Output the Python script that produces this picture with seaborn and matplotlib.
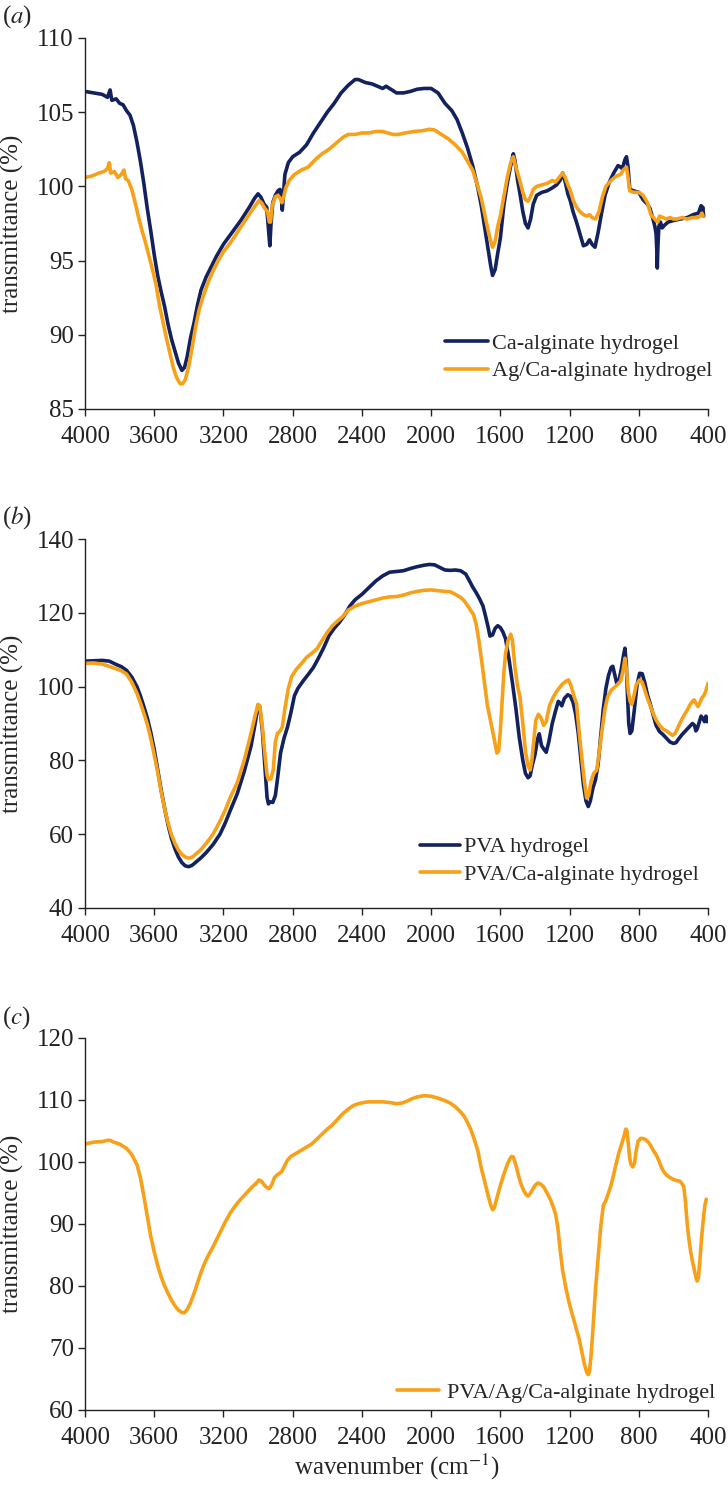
import numpy as np
import pandas as pd
import matplotlib
matplotlib.use("Agg")
import matplotlib.pyplot as plt
import seaborn as sns

# ---------------- data ----------------
# Panel (a)
a_ca_wn = [4000, 3950, 3900, 3870, 3855, 3845, 3820, 3800, 3780, 3760, 3740, 3720, 3700, 3680, 3660, 3640,
           3620, 3600, 3580, 3560, 3540, 3520, 3500, 3480, 3460, 3440, 3425, 3410, 3390, 3370, 3350, 3330,
           3300, 3270, 3240, 3200, 3150, 3100, 3050, 3020, 3000, 2985, 2965, 2950, 2940, 2932, 2925, 2915,
           2900, 2885, 2873, 2866, 2860, 2854, 2845, 2825, 2800, 2760, 2720, 2680, 2640, 2600, 2560, 2520,
           2480, 2440, 2420, 2380, 2340, 2300, 2280, 2260, 2240, 2200, 2160, 2120, 2080, 2040, 2000, 1960,
           1920, 1880, 1850, 1820, 1790, 1760, 1730, 1710, 1690, 1670, 1655, 1645, 1630, 1615, 1600, 1580,
           1560, 1540, 1525, 1515, 1500, 1485, 1470, 1455, 1440, 1425, 1410, 1390, 1360, 1330, 1300, 1275,
           1255, 1240, 1225, 1210, 1195, 1180, 1160, 1140, 1120, 1100, 1085, 1070, 1053, 1035, 1015, 995,
           970, 945, 920, 905, 895, 880, 871, 862, 852, 830, 800, 775, 750, 735, 720, 707, 700, 695, 693,
           690, 684, 675, 665, 650, 630, 600, 560, 520, 485, 455, 440, 435, 430, 425]
a_ca_t = [106.4, 106.3, 106.2, 106.0, 106.5, 105.8, 105.9, 105.6, 105.5, 105.1, 104.8, 104.1, 103.0, 101.7,
          100.2, 98.5, 97.0, 95.4, 94.0, 92.9, 91.9, 90.7, 89.7, 88.9, 88.1, 87.6, 87.8, 88.5, 89.8, 90.8,
          92.0, 93.0, 93.9, 94.6, 95.3, 96.1, 96.9, 97.7, 98.6, 99.2, 99.5, 99.3, 98.8, 98.6, 97.2, 96.0,
          97.5, 98.9, 99.4, 99.7, 99.8, 99.3, 98.4, 99.4, 100.8, 101.6, 102.0, 102.3, 102.8, 103.6, 104.3,
          105.0, 105.6, 106.3, 106.8, 107.2, 107.2, 107.0, 106.9, 106.7, 106.6, 106.75, 106.6, 106.3, 106.3,
          106.4, 106.55, 106.6, 106.6, 106.3, 105.6, 105.1, 104.5, 103.6, 102.6, 101.4, 99.9, 98.7, 97.2,
          95.7, 94.6, 94.0, 94.4, 95.5, 96.5, 98.7, 100.2, 101.4, 102.2, 101.7, 100.4, 99.4, 98.3, 97.5,
          97.2, 97.8, 98.8, 99.4, 99.6, 99.7, 99.9, 100.1, 100.4, 100.9, 100.3, 99.5, 99.0, 98.3, 97.6,
          96.8, 96.0, 96.1, 96.4, 96.1, 95.9, 96.9, 98.2, 99.4, 100.3, 100.9, 101.4, 101.3, 101.2, 101.8,
          102.0, 101.3, 99.8, 99.7, 99.6, 99.1, 98.8, 98.5, 97.9, 97.3, 96.8, 95.5, 94.5, 95.8, 97.3, 97.6,
          97.2, 97.4, 97.6, 97.7, 97.8, 97.9, 98.1, 98.2, 98.7, 98.4, 98.6, 98.0]

a_ag_wn = [4000, 3960, 3920, 3890, 3870, 3860, 3852, 3830, 3810, 3790, 3775, 3765, 3750, 3730, 3710, 3690,
           3670, 3650, 3630, 3610, 3590, 3570, 3550, 3530, 3510, 3490, 3470, 3450, 3435, 3420, 3400, 3380,
           3360, 3340, 3320, 3290, 3260, 3230, 3200, 3160, 3120, 3080, 3040, 3010, 2995, 2980, 2960, 2945,
           2935, 2928, 2918, 2900, 2885, 2872, 2862, 2852, 2840, 2820, 2790, 2750, 2710, 2670, 2630, 2590,
           2550, 2510, 2480, 2440, 2400, 2360, 2320, 2280, 2250, 2220, 2190, 2150, 2100, 2050, 2010, 1980,
           1940, 1900, 1860, 1820, 1790, 1760, 1730, 1710, 1690, 1670, 1655, 1645, 1630, 1615, 1600, 1580,
           1560, 1540, 1525, 1510, 1490, 1470, 1455, 1440, 1425, 1410, 1390, 1360, 1330, 1300, 1280, 1260,
           1240, 1225, 1210, 1195, 1180, 1160, 1140, 1120, 1100, 1085, 1070, 1050, 1030, 1010, 990, 960,
           930, 905, 890, 871, 862, 852, 830, 800, 775, 750, 730, 715, 700, 690, 680, 660, 640, 620, 600,
           580, 550, 520, 490, 460, 445, 435, 428]
a_ag_t = [100.6, 100.7, 100.9, 101.0, 101.2, 101.6, 100.9, 101.0, 100.6, 100.8, 101.1, 100.5, 100.4, 99.8,
          98.9, 97.9, 97.0, 96.2, 95.3, 94.4, 93.4, 92.0, 90.9, 89.8, 88.8, 87.8, 87.1, 86.7, 86.7, 87.0,
          87.9, 89.2, 90.6, 91.7, 92.5, 93.5, 94.3, 95.0, 95.6, 96.2, 96.9, 97.6, 98.3, 98.8, 99.05, 98.9,
          98.5, 98.3, 97.6, 97.6, 98.7, 99.3, 99.4, 99.2, 98.9, 99.3, 99.9, 100.4, 100.8, 101.1, 101.3,
          101.8, 102.2, 102.5, 102.9, 103.3, 103.5, 103.5, 103.6, 103.6, 103.7, 103.7, 103.6, 103.5, 103.5,
          103.6, 103.7, 103.75, 103.85, 103.8, 103.5, 103.2, 102.8, 102.3, 101.7, 101.1, 100.0, 99.2, 98.1,
          97.0, 96.3, 95.9, 96.3, 97.3, 98.0, 99.3, 100.6, 101.6, 102.0, 101.3, 100.5, 99.6, 99.1, 99.0,
          99.3, 99.8, 100.0, 100.1, 100.2, 100.4, 100.3, 100.6, 100.9, 100.6, 100.1, 99.7, 99.1, 98.6,
          98.3, 98.1, 98.0, 98.1, 97.9, 97.8, 98.3, 99.3, 100.0, 100.4, 100.7, 100.8, 101.1, 101.3, 100.6,
          99.7, 99.6, 99.6, 99.4, 98.9, 98.1, 97.9, 97.7, 97.6, 98.0, 97.9, 97.8, 97.9, 97.8, 97.8, 97.9,
          97.8, 97.9, 97.9, 98.0, 98.2, 98.0]

# Panel (b)
b_pva_wn = [4000, 3950, 3900, 3860, 3820, 3790, 3760, 3730, 3700, 3680, 3660, 3640, 3620, 3600, 3580, 3560,
            3540, 3520, 3500, 3480, 3460, 3440, 3420, 3400, 3380, 3360, 3330, 3300, 3260, 3220, 3190, 3160,
            3120, 3080, 3040, 3015, 3000, 2990, 2975, 2960, 2948, 2940, 2930, 2915, 2900, 2885, 2870, 2850,
            2830, 2810, 2790, 2770, 2740, 2710, 2680, 2650, 2620, 2590, 2560, 2530, 2500, 2470, 2440, 2400,
            2360, 2320, 2280, 2240, 2200, 2160, 2120, 2080, 2040, 2010, 1980, 1950, 1920, 1890, 1860, 1830,
            1800, 1780, 1760, 1740, 1720, 1700, 1685, 1670, 1660, 1645, 1630, 1615, 1600, 1585, 1570, 1550,
            1530, 1510, 1490, 1470, 1455, 1440, 1428, 1415, 1400, 1385, 1375, 1362, 1348, 1335, 1320, 1300,
            1280, 1265, 1255, 1245, 1230, 1210, 1195, 1180, 1165, 1150, 1135, 1120, 1105, 1092, 1080, 1065,
            1050, 1035, 1020, 1005, 990, 975, 960, 950, 940, 928, 915, 900, 888, 880, 872, 865, 858, 850, 840,
            825, 810, 795, 780, 765, 750, 735, 715, 700, 680, 660, 640, 620, 600, 585, 570, 550, 530, 510,
            490, 478, 470, 462, 450, 440, 430, 420, 412, 405, 400]
b_pva_t = [106.9, 107.0, 107.1, 106.9, 106.0, 105.4, 104.4, 102.6, 100.0, 97.5, 94.6, 91.5, 87.6, 83.0,
           77.5, 72.0, 67.0, 62.5, 58.8, 56.0, 53.8, 52.3, 51.4, 51.2, 51.6, 52.4, 53.6, 55.0, 57.2, 60.0,
           63.0, 66.5, 71.0, 77.0, 84.0, 90.5, 95.0, 94.5, 88.0, 78.0, 70.0, 68.2, 68.8, 68.6, 70.5, 76.0,
           82.0, 86.0, 89.0, 93.0, 97.5, 99.5, 101.5, 103.3, 105.2, 107.8, 110.6, 113.8, 115.8, 117.4, 119.4,
           121.8, 123.5, 125.0, 126.8, 128.6, 130.0, 131.0, 131.2, 131.4, 132.0, 132.5, 132.9, 133.1, 133.0,
           132.3, 131.6, 131.5, 131.6, 131.4, 130.5, 128.8, 127.0, 125.5, 123.8, 121.8, 119.0, 116.0, 113.7,
           114.0, 115.8, 116.5, 116.0, 114.8, 113.0, 107.5, 101.0, 94.0, 86.0, 80.0, 76.5, 75.3, 75.8, 78.8,
           81.5, 85.8, 87.2, 84.0, 83.0, 82.2, 85.0, 90.0, 93.6, 96.0, 95.5, 94.8, 96.8, 97.8, 97.4, 95.8,
           92.6, 87.5, 80.5, 73.5, 69.0, 67.5, 69.0, 72.5, 74.8, 79.0, 86.5, 94.0, 99.5, 103.0, 105.2, 105.5,
           103.5, 101.0, 101.5, 105.0, 108.5, 110.4, 106.0, 97.5, 90.0, 87.3, 88.0, 94.0, 100.5, 103.6, 103.5,
           101.0, 97.8, 95.5, 92.0, 89.5, 87.8, 87.0, 86.0, 85.0, 84.6, 84.8, 85.8, 87.0, 88.0, 89.0, 90.0,
           89.5, 88.0, 88.6, 90.5, 92.0, 91.4, 90.5, 92.0, 90.5, 91.0]

b_pvaca_wn = [4000, 3950, 3900, 3860, 3820, 3790, 3760, 3730, 3700, 3680, 3660, 3640, 3620, 3600, 3580,
              3560, 3540, 3520, 3500, 3480, 3460, 3440, 3420, 3400, 3380, 3360, 3330, 3300, 3260, 3220, 3190,
              3160, 3120, 3080, 3040, 3015, 3000, 2990, 2975, 2960, 2948, 2940, 2925, 2912, 2900, 2888, 2875,
              2860, 2845, 2825, 2806, 2780, 2750, 2720, 2690, 2660, 2630, 2600, 2570, 2540, 2510, 2480, 2440,
              2400, 2360, 2320, 2280, 2240, 2200, 2160, 2120, 2080, 2040, 2000, 1960, 1920, 1890, 1860, 1830,
              1810, 1790, 1770, 1755, 1740, 1725, 1708, 1690, 1675, 1660, 1645, 1630, 1620, 1610, 1600, 1590,
              1580, 1570, 1555, 1540, 1530, 1515, 1500, 1487, 1470, 1455, 1440, 1428, 1418, 1405, 1395, 1380,
              1365, 1350, 1335, 1315, 1290, 1270, 1245, 1220, 1205, 1190, 1175, 1160, 1145, 1130, 1115, 1101,
              1090, 1075, 1060, 1043, 1025, 1010, 995, 980, 960, 940, 925, 905, 890, 880, 870, 860, 850, 840,
              828, 815, 795, 780, 765, 750, 735, 715, 700, 680, 660, 640, 620, 605, 590, 575, 555, 535, 520,
              505, 490, 480, 470, 458, 448, 435, 425, 415, 405, 400]
b_pvaca_t = [106.3, 106.4, 106.1, 105.5, 104.8, 104.3, 103.4, 101.2, 98.2, 95.6, 92.8, 89.8, 86.0, 81.5,
             76.8, 71.5, 67.0, 63.0, 59.8, 57.5, 55.7, 54.5, 53.8, 53.5, 53.8, 54.6, 55.8, 57.5, 60.0, 63.5,
             66.5, 70.0, 74.0, 80.0, 87.5, 92.5, 95.2, 94.8, 89.0, 81.5, 76.0, 74.8, 75.0, 77.5, 85.0, 87.3,
             87.8, 89.0, 94.0, 99.5, 102.7, 104.6, 106.2, 107.9, 109.0, 110.2, 112.5, 114.7, 116.5, 117.8,
             119.0, 120.7, 121.8, 122.5, 123.0, 123.5, 124.0, 124.3, 124.4, 124.8, 125.4, 125.8, 126.1, 126.2,
             126.0, 125.8, 125.7, 125.0, 124.2, 123.3, 122.0, 120.6, 119.5, 117.0, 112.8, 107.0, 100.5, 95.0,
             91.5, 88.0, 84.5, 82.0, 82.5, 88.0, 96.0, 103.5, 109.0, 112.5, 114.2, 112.5, 105.0, 100.0, 97.3,
             90.0, 82.5, 78.5, 77.4, 80.0, 86.0, 90.9, 92.5, 91.5, 89.5, 90.5, 95.0, 97.5, 99.0, 100.5, 101.5,
             101.8, 100.0, 97.5, 95.5, 88.0, 81.0, 74.5, 69.8, 70.5, 74.5, 76.5, 77.4, 83.5, 89.0, 94.0, 97.2,
             99.0, 99.8, 100.5, 101.5, 104.5, 107.7, 104.0, 98.5, 96.0, 95.2, 97.5, 100.5, 101.8, 101.2, 99.0,
             96.8, 95.0, 92.5, 91.0, 89.5, 88.5, 88.0, 87.3, 86.8, 87.3, 88.8, 90.8, 92.5, 93.6, 95.0, 96.0,
             96.4, 95.5, 94.6, 95.5, 97.0, 97.5, 98.5, 100.0, 100.9]

# Panel (c)
c_wn = [4000, 3950, 3900, 3870, 3855, 3835, 3800, 3760, 3730, 3700, 3680, 3660, 3640, 3620, 3600, 3580, 3560,
        3540, 3520, 3500, 3480, 3460, 3440, 3425, 3410, 3390, 3370, 3350, 3330, 3310, 3290, 3270, 3250, 3220,
        3190, 3160, 3130, 3100, 3070, 3040, 3010, 2995, 2980, 2965, 2950, 2935, 2920, 2905, 2890, 2875, 2862,
        2850, 2830, 2810, 2780, 2750, 2720, 2690, 2660, 2630, 2600, 2570, 2540, 2510, 2480, 2450, 2420, 2390,
        2360, 2320, 2280, 2240, 2200, 2170, 2140, 2110, 2080, 2040, 2000, 1960, 1920, 1890, 1860, 1830, 1810,
        1790, 1770, 1750, 1730, 1710, 1690, 1670, 1655, 1645, 1635, 1620, 1600, 1580, 1560, 1545, 1535, 1525,
        1510, 1495, 1480, 1465, 1450, 1440, 1430, 1415, 1400, 1385, 1370, 1350, 1330, 1310, 1295, 1280, 1268,
        1255, 1240, 1220, 1200, 1180, 1160, 1145, 1130, 1115, 1100, 1092, 1085, 1075, 1065, 1050, 1035, 1020,
        1005, 990, 975, 960, 945, 930, 915, 900, 885, 875, 868, 860, 852, 845, 835, 825, 815, 805, 790, 775,
        760, 745, 730, 715, 700, 685, 670, 655, 640, 620, 600, 580, 562, 550, 540, 530, 520, 510, 500, 490,
        478, 468, 462, 455, 447, 438, 428, 418, 410]
c_t = [102.9, 103.2, 103.3, 103.5, 103.5, 103.2, 102.9, 102.2, 101.2, 99.6, 97.5, 94.5, 91.2, 88.0, 85.5,
       83.3, 81.5, 80.0, 78.8, 77.7, 76.8, 76.1, 75.7, 75.7, 76.2, 77.3, 78.8, 80.5, 82.2, 83.6, 84.8, 85.8,
       86.9, 88.6, 90.3, 91.8, 93.0, 94.0, 94.9, 95.8, 96.6, 97.1, 96.9, 96.3, 95.9, 95.7, 96.4, 97.5, 97.9,
       98.2, 98.5, 99.2, 100.3, 100.9, 101.4, 101.9, 102.4, 102.9, 103.7, 104.5, 105.3, 106.0, 106.9, 107.8,
       108.5, 109.1, 109.4, 109.6, 109.7, 109.7, 109.7, 109.6, 109.4, 109.5, 109.8, 110.2, 110.5, 110.7,
       110.6, 110.3, 109.9, 109.5, 108.9, 108.1, 107.4, 106.4, 105.2, 103.6, 101.8, 99.0, 96.8, 94.5, 93.0,
       92.3, 92.6, 94.2, 96.2, 98.0, 99.6, 100.5, 100.9, 100.8, 99.5, 97.8, 96.4, 95.4, 94.7, 94.5, 94.8,
       95.5, 96.2, 96.6, 96.5, 96.0, 95.0, 93.9, 92.8, 91.5, 89.5, 86.0, 82.5, 79.5, 77.0, 75.0, 73.0, 71.5,
       69.5, 67.5, 66.0, 65.7, 66.2, 69.0, 73.0, 79.5, 84.5, 89.5, 93.0, 93.8, 95.0, 96.3, 98.0, 99.8, 101.5,
       102.8, 104.2, 105.3, 105.0, 102.8, 100.5, 99.6, 99.2, 99.8, 101.8, 103.3, 103.8, 103.8, 103.6, 103.2,
       102.6, 101.8, 101.2, 100.3, 99.2, 98.4, 97.9, 97.5, 97.2, 97.0, 96.9, 96.5, 96.0, 93.5, 90.0, 87.5,
       85.5, 84.0, 82.5, 81.2, 80.8, 81.5, 84.0, 87.5, 90.5, 93.0, 94.0]

labels_a = ["Ca-alginate hydrogel", "Ag/Ca-alginate hydrogel"]
labels_b = ["PVA hydrogel", "PVA/Ca-alginate hydrogel"]
labels_c = ["PVA/Ag/Ca-alginate hydrogel"]
xticks = [4000, 3600, 3200, 2800, 2400, 2000, 1600, 1200, 800, 400]
yticks_a = [85, 90, 95, 100, 105, 110]
yticks_b = [40, 60, 80, 100, 120, 140]
yticks_c = [60, 70, 80, 90, 100, 110, 120]

NAVY = "#13225e"
ORANGE = "#f7a11a"

# ---------------- style ----------------
sns.set_theme(style="ticks")
plt.rcParams["font.family"] = ["Liberation Serif", "DejaVu Serif"]
plt.rcParams["mathtext.fontset"] = "stix"
plt.rcParams["axes.edgecolor"] = "#222222"
plt.rcParams["xtick.color"] = "#222222"
plt.rcParams["ytick.color"] = "#222222"

fig = plt.figure(figsize=(7.28, 14.85), dpi=100)
W, H = 728, 1485
L, R = 85, 708


def make_ax(top, bottom):
    return fig.add_axes([L / W, 1 - bottom / H, (R - L) / W, (bottom - top) / H])


ax_a = make_ax(38, 409)
ax_b = make_ax(539, 908)
ax_c = make_ax(1038, 1410)

df_a = pd.concat([
    pd.DataFrame({"wn": a_ca_wn, "t": a_ca_t, "s": labels_a[0]}),
    pd.DataFrame({"wn": a_ag_wn, "t": a_ag_t, "s": labels_a[1]}),
])
df_b = pd.concat([
    pd.DataFrame({"wn": b_pva_wn, "t": b_pva_t, "s": labels_b[0]}),
    pd.DataFrame({"wn": b_pvaca_wn, "t": b_pvaca_t, "s": labels_b[1]}),
])
df_c = pd.DataFrame({"wn": c_wn, "t": c_t, "s": labels_c[0]})

LW = 2.6
sns.lineplot(data=df_a, x="wn", y="t", hue="s", hue_order=labels_a, palette=[NAVY, ORANGE],
             estimator=None, sort=False, lw=LW, ax=ax_a)
sns.lineplot(data=df_b, x="wn", y="t", hue="s", hue_order=labels_b, palette=[NAVY, ORANGE],
             estimator=None, sort=False, lw=LW, ax=ax_b)
sns.lineplot(data=df_c, x="wn", y="t", hue="s", hue_order=labels_c, palette=[ORANGE],
             estimator=None, sort=False, lw=LW, ax=ax_c)

for ax, yt in [(ax_a, yticks_a), (ax_b, yticks_b), (ax_c, yticks_c)]:
    ax.set_xlim(4000, 400)
    ax.set_ylim(yt[0], yt[-1])
    ax.set_xticks(xticks)
    ax.set_xticklabels([str(v) for v in xticks])
    ax.set_yticks(yt)
    ax.tick_params(axis="both", labelsize=18, length=5, width=1.0, direction="out")
    ax.tick_params(axis="x", pad=7)
    ax.tick_params(axis="y", pad=3)
    for s in ["top", "right"]:
        ax.spines[s].set_visible(False)
    for s in ["left", "bottom"]:
        ax.spines[s].set_linewidth(1.0)
    ax.set_ylabel("transmittance (%)", fontsize=18, labelpad=9)
    ax.set_xlabel("")

ax_c.set_xlabel("wavenumber (cm$^{-1}$)", fontsize=18, labelpad=2)

leg_kw = dict(frameon=False, fontsize=16, borderpad=0, borderaxespad=0,
              labelspacing=0.3, loc="center left")
ax_a.legend(title=None, handlelength=1.95, handletextpad=0.15, bbox_to_anchor=(0.578, 0.139), **leg_kw)
ax_b.legend(title=None, handlelength=1.8, handletextpad=0.15, bbox_to_anchor=(0.538, 0.128), **leg_kw)
ax_c.legend(title=None, handlelength=1.9, handletextpad=0.35, bbox_to_anchor=(0.501, 0.046), **leg_kw)
for ax in (ax_a, ax_b, ax_c):
    for line in ax.get_legend().get_lines():
        line.set_linewidth(LW)

fig.text(0.003, 1 - 17 / H, r"($\it{a}$)", fontsize=18, va="center", ha="left")
fig.text(0.003, 1 - 518 / H, r"($\it{b}$)", fontsize=18, va="center", ha="left")
fig.text(0.003, 1 - 1018 / H, r"($\it{c}$)", fontsize=18, va="center", ha="left")

fig.savefig("out.png", dpi=100)
